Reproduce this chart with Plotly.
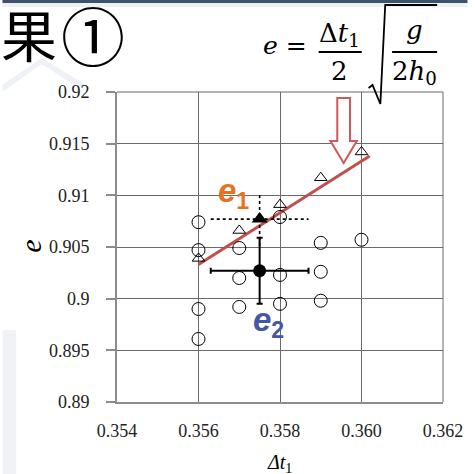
import plotly.graph_objects as go

# ---------------- data ----------------
circle_x = [0.356, 0.356, 0.356, 0.356, 0.357, 0.357, 0.357, 0.358, 0.358, 0.358, 0.359, 0.359, 0.359, 0.360]
circle_y = [0.9074, 0.9047, 0.8990, 0.8961, 0.9049, 0.9020, 0.8992, 0.9079, 0.9023, 0.8995, 0.9054, 0.9026, 0.8998, 0.9057]
tri_x = [0.356, 0.357, 0.358, 0.359, 0.360]
tri_y = [0.9039, 0.9066, 0.9091, 0.9117, 0.9142]
e1_x, e1_y, e1_ex, e1_ey = 0.3575, 0.9077, 0.0012, 0.0026
e2_x, e2_y, e2_ex, e2_ey = 0.3575, 0.9027, 0.0012, 0.0032
fit_x = [0.356, 0.3602]
fit_y = [0.9033, 0.9138]
x_ticks = [0.354, 0.356, 0.358, 0.360, 0.362]
x_ticklabels = ["0.354", "0.356", "0.358", "0.360", "0.362"]
y_ticks = [0.89, 0.895, 0.90, 0.905, 0.91, 0.915, 0.92]
y_ticklabels = ["0.89", "0.895", "0.9", "0.905", "0.91", "0.915", "0.92"]

W, H = 475, 474
L, R, T, B = 117, 25, 92, 72
PW, PH = W - L - R, H - T - B


def px(x, y):
    return (x - L) / PW, (H - B - y) / PH


def path(points):
    s = ""
    for i, (x, y) in enumerate(points):
        u, v = px(x, y)
        s += ("M" if i == 0 else "L") + f"{u:.4f},{v:.4f} "
    return s


fig = go.Figure()

fig.add_trace(go.Scatter(x=fit_x, y=fit_y, mode="lines",
                         line=dict(color="#c0504d", width=3), showlegend=False))
fig.add_trace(go.Scatter(x=circle_x, y=circle_y, mode="markers",
                         marker=dict(symbol="circle-open", size=13, color="black", line=dict(width=1)),
                         showlegend=False))
fig.add_trace(go.Scatter(x=tri_x, y=tri_y, mode="markers",
                         marker=dict(symbol="triangle-up-open", size=11, color="black", line=dict(width=1)),
                         showlegend=False))
fig.add_trace(go.Scatter(x=[e1_x - e1_ex, e1_x + e1_ex], y=[e1_y, e1_y], mode="lines",
                         line=dict(color="black", width=1.6, dash="dot"), showlegend=False))
fig.add_trace(go.Scatter(x=[e1_x, e1_x], y=[e1_y - e1_ey, e1_y + e1_ey], mode="lines",
                         line=dict(color="black", width=1.6, dash="dot"), showlegend=False))
fig.add_trace(go.Scatter(x=[e1_x], y=[e1_y], mode="markers",
                         marker=dict(symbol="triangle-up", size=14, color="black"), showlegend=False))
fig.add_trace(go.Scatter(x=[e2_x], y=[e2_y], mode="markers",
                         marker=dict(symbol="circle", size=13, color="black"),
                         error_x=dict(type="constant", value=e2_ex, color="black", thickness=2, width=3),
                         error_y=dict(type="constant", value=e2_ey, color="black", thickness=2, width=3),
                         showlegend=False))

shapes = []
shapes.append(dict(type="rect", xref="paper", yref="paper", x0=px(0, 0)[0], x1=px(W, 0)[0],
                   y0=px(0, 3)[1], y1=px(0, 0)[1], fillcolor="#3e526a", line=dict(width=0), layer="below"))
shapes.append(dict(type="rect", xref="paper", yref="paper", x0=px(0, 0)[0], x1=px(W, 0)[0],
                   y0=px(0, 7)[1], y1=px(0, 3)[1], fillcolor="#eef0f3", line=dict(width=0), layer="below"))
shapes.append(dict(type="path", xref="paper", yref="paper",
                   path=path([(0, 85), (40, 58), (85, 85), (78, 88), (40, 64), (0, 92)]) + "Z",
                   fillcolor="#eef1f5", line=dict(width=0), layer="below"))
shapes.append(dict(type="rect", xref="paper", yref="paper", x0=px(0, 0)[0], x1=px(14, 0)[0],
                   y0=px(0, 474)[1], y1=px(0, 330)[1], fillcolor="#f0f2f5", line=dict(width=0), layer="below"))
shapes.append(dict(type="line", xref="paper", yref="paper", x0=0, x1=1, y0=1, y1=1,
                   line=dict(color="#6a6a6a", width=1)))
shapes.append(dict(type="line", xref="paper", yref="paper", x0=1, x1=1, y0=0, y1=1,
                   line=dict(color="#6a6a6a", width=1)))
shapes.append(dict(type="path", xref="paper", yref="paper",
                   path=path([(342, 98), (355, 98), (355, 141), (362, 141), (348.5, 163),
                              (335, 141), (342, 141)]) + "Z",
                   fillcolor="white", line=dict(color="#cf5a58", width=2)))
shapes.append(dict(type="line", xref="paper", yref="paper",
                   x0=px(323, 0)[0], x1=px(367, 0)[0], y0=px(0, 52)[1], y1=px(0, 52)[1],
                   line=dict(color="black", width=2)))
shapes.append(dict(type="line", xref="paper", yref="paper",
                   x0=px(398, 0)[0], x1=px(444, 0)[0], y0=px(0, 52)[1], y1=px(0, 52)[1],
                   line=dict(color="black", width=2)))
shapes.append(dict(type="path", xref="paper", yref="paper",
                   path=path([(374, 88), (378, 85), (386, 104), (391, 5), (444, 5)]),
                   line=dict(color="black", width=1.8)))

serif = "Liberation Serif"
math_font = "DejaVu Serif"
ann = []


def add_text(text, x, y, size, color="black", family=serif, angle=0, xanchor="center"):
    u, v = px(x, y)
    ann.append(dict(text=text, x=u, y=v, xref="paper", yref="paper", showarrow=False,
                    xanchor=xanchor, yanchor="middle", textangle=angle,
                    font=dict(size=size, color=color, family=family)))


add_text("結果", 58, 33, 56, family="Noto Sans CJK JP", xanchor="right")
add_text("①", 92, 33, 64, family="Noto Sans CJK JP")
add_text("<i>e</i> =", 289, 46, 25, family=math_font)
add_text("Δ<i>t</i><sub>1</sub>", 344, 34, 26, family=math_font)
add_text("2", 344, 71, 26, family=math_font)
add_text("<i>g</i>", 421, 30, 26, family=math_font)
add_text("2<i>h</i><sub>0</sub>", 421, 72, 26, family=math_font)
add_text("<i>e</i>", 28, 246, 30, angle=-90, family=serif)
add_text("<i>Δt</i><sub>1</sub>", 283, 463, 20, family=serif)
add_text("<b><i>e</i></b><sub><b>1</b></sub>", 236, 193, 33, color="#e8731f", family="Liberation Sans")
add_text("<b><i>e</i></b><sub><b>2</b></sub>", 272, 322, 33, color="#4556a6", family="Liberation Sans")

fig.update_layout(
    width=W, height=H,
    margin=dict(l=L, r=R, t=T, b=B),
    paper_bgcolor="white", plot_bgcolor="white",
    font=dict(family=serif),
    shapes=shapes, annotations=ann,
    xaxis=dict(range=[0.354, 0.362], tickvals=x_ticks, ticktext=x_ticklabels,
               showgrid=True, gridcolor="#6a6a6a", gridwidth=1,
               showline=True, linecolor="#8c8c8c", linewidth=2, ticks="",
               ticklabelstandoff=11, zeroline=False,
               tickfont=dict(family=serif, size=18, color="#222")),
    yaxis=dict(range=[0.89, 0.92], tickvals=y_ticks, ticktext=y_ticklabels,
               showgrid=True, gridcolor="#6a6a6a", gridwidth=1,
               showline=True, linecolor="#8c8c8c", linewidth=2,
               ticks="outside", ticklen=9, tickcolor="#8c8c8c", tickwidth=1.5,
               ticklabelstandoff=13, zeroline=False,
               tickfont=dict(family=serif, size=18, color="#222")),
)

fig.write_html("out.html", config={"displayModeBar": False},
               post_script="document.body.style.margin='0';")
